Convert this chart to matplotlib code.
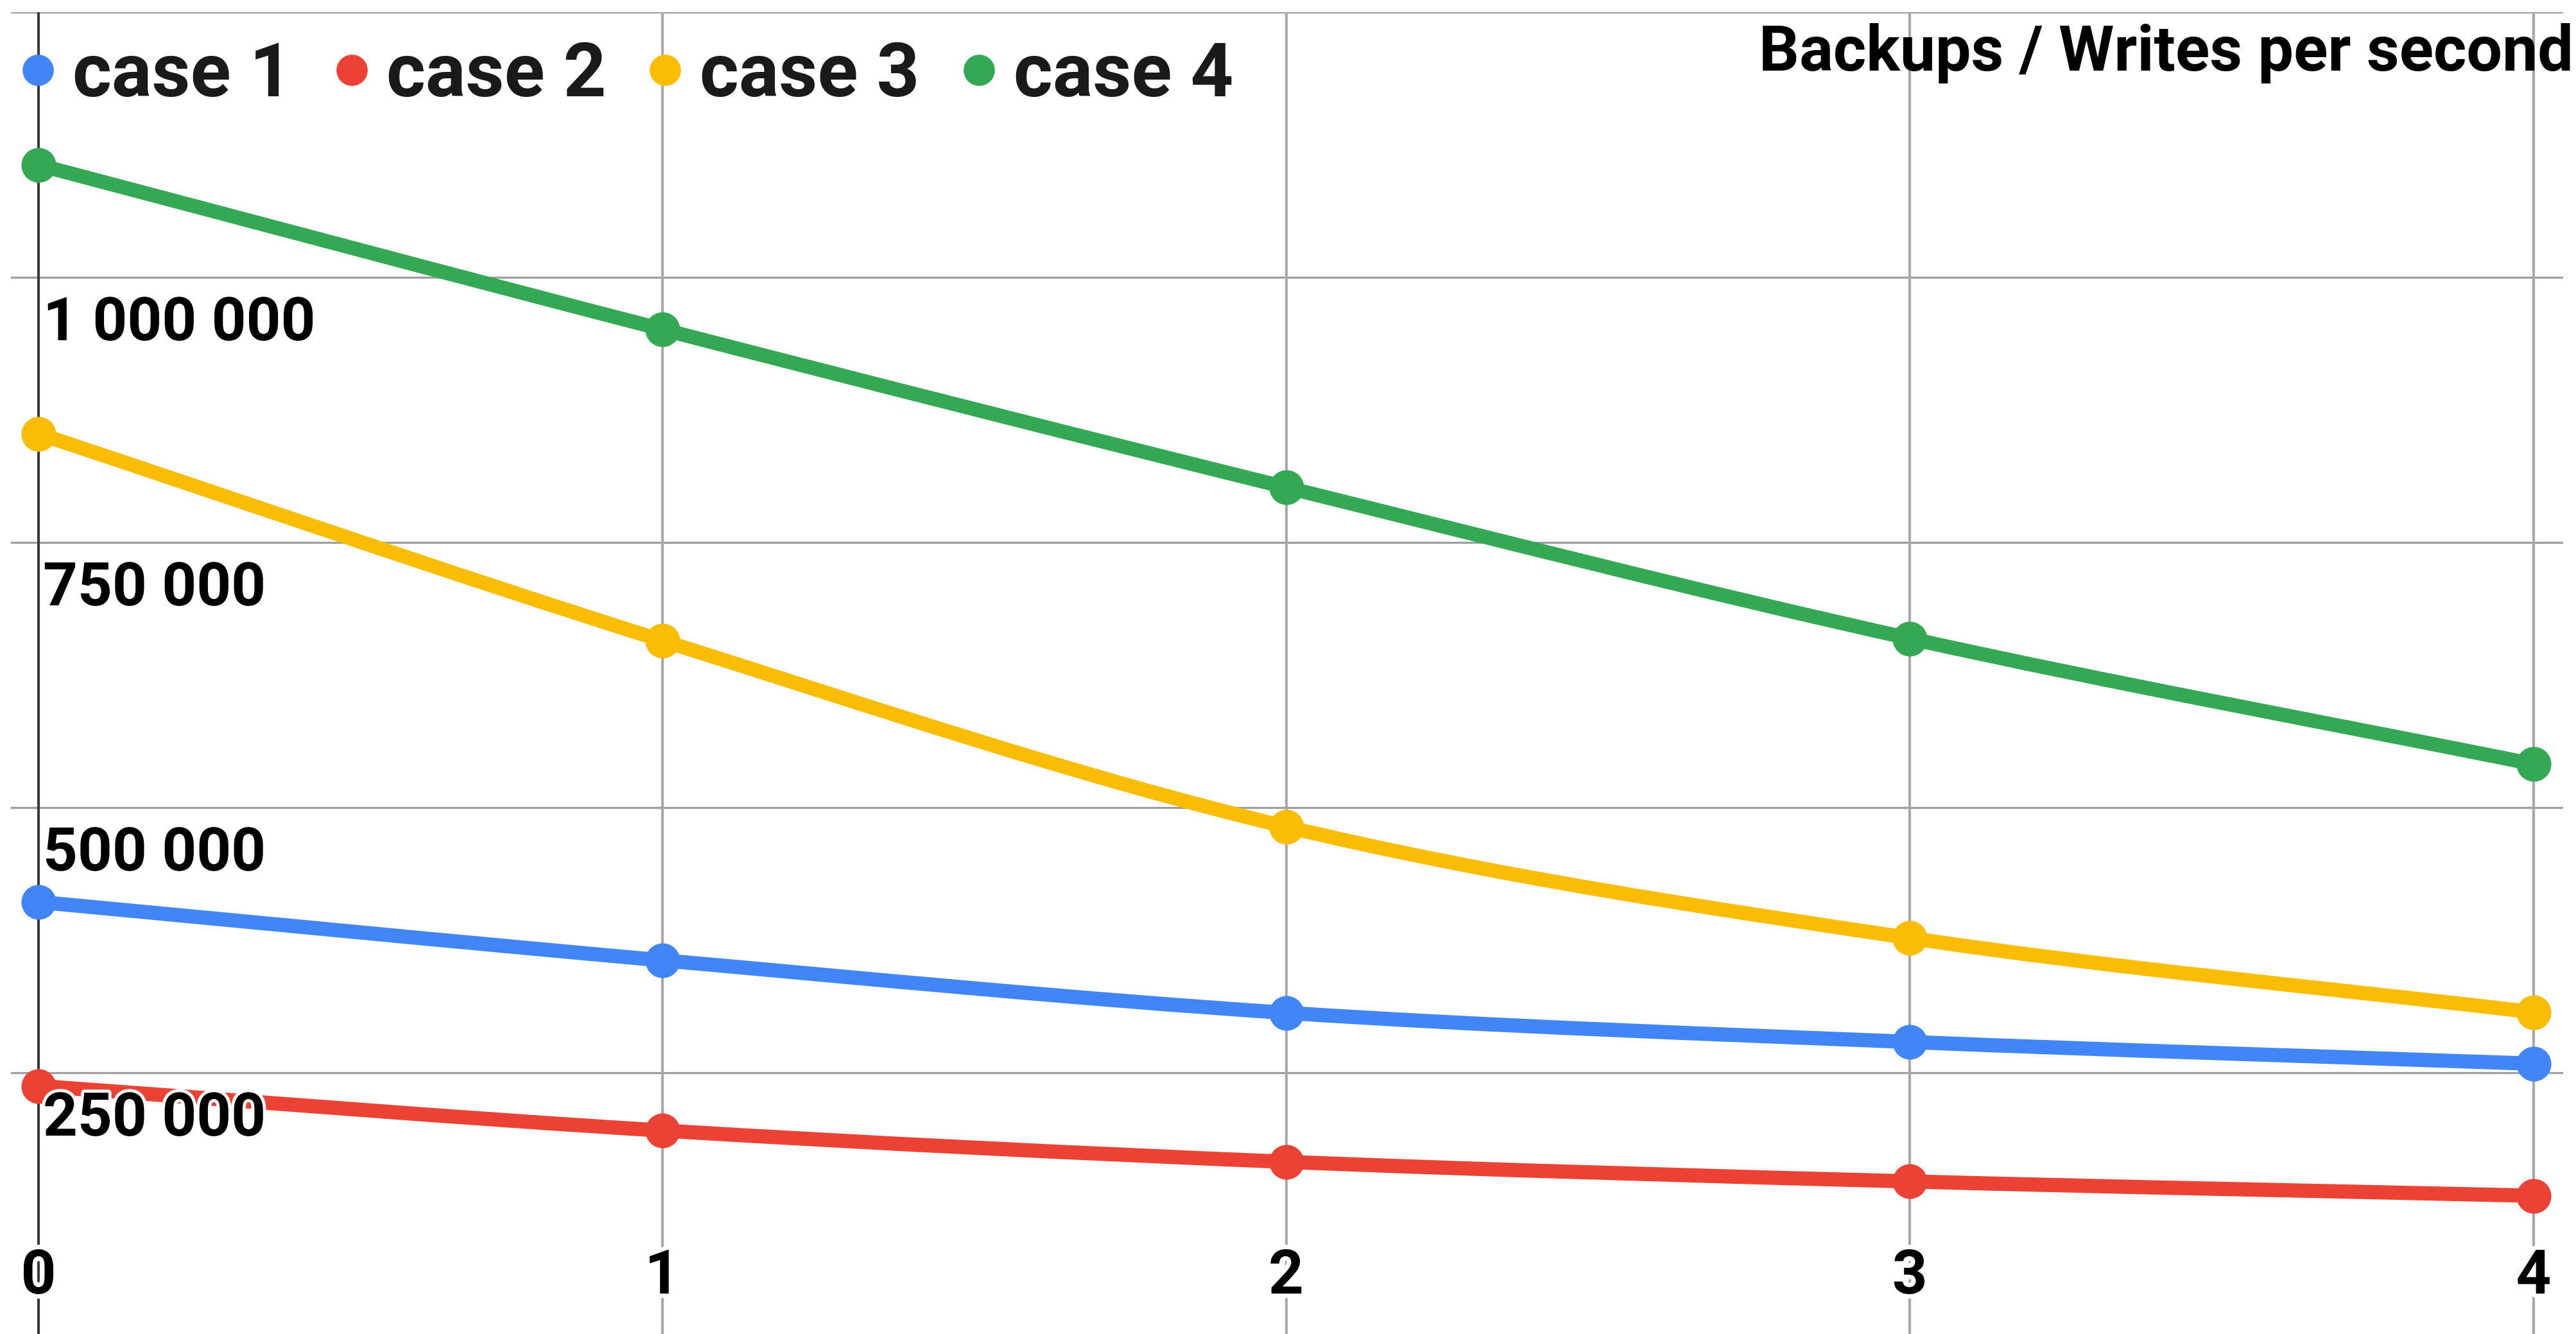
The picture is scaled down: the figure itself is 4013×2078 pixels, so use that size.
import numpy as np
import matplotlib
matplotlib.use('Agg')
import matplotlib.pyplot as plt
import matplotlib.patheffects as pe
from matplotlib.path import Path
from matplotlib.patches import PathPatch

plt.rcParams['font.family'] = ['Roboto', 'DejaVu Sans']
plt.rcParams['font.weight'] = 'bold'

backups = [0, 1, 2, 3, 4]
case1 = [411000, 356000, 306500, 279000, 258500]
case2 = [237500, 195500, 166000, 147500, 134000]
case3 = [852500, 657500, 482000, 377000, 307000]
case4 = [1106000, 951000, 802000, 659500, 541000]
names = ['case 1', 'case 2', 'case 3', 'case 4']
colors = ['#4285F4', '#EA4335', '#FBBC04', '#34A853']
y_ticks = [250000, 500000, 750000, 1000000, 1250000]
title = 'Backups / Writes per second'

W, H = 4013, 2078
DPI = 100


def smooth_path(xs, ys):
    # catmull-rom style curve turned into cubic bezier segments
    p = np.column_stack([xs, ys]).astype(float)
    n = len(p)
    tang = np.zeros_like(p)
    for i in range(n):
        a = p[max(i - 1, 0)]
        b = p[min(i + 1, n - 1)]
        tang[i] = (b - a) / (2 if 0 < i < n - 1 else 1)
    verts = [p[0]]
    codes = [Path.MOVETO]
    for i in range(n - 1):
        verts += [p[i] + tang[i] / 3, p[i + 1] - tang[i + 1] / 3, p[i + 1]]
        codes += [Path.CURVE4] * 3
    return Path(verts, codes)


def fmt(v):
    return f'{v:,}'.replace(',', ' ')


fig = plt.figure(figsize=(W / DPI, H / DPI), dpi=DPI)
# plot area runs almost edge to edge
ax = fig.add_axes([17 / W, -6 / H, (3993 - 17) / W, (2084 - 19) / H])
ax.set_xlim((17 - 60) / 971.75, (3993 - 60) / 971.75)
ax.set_ylim(0, 1250000)
ax.axis('off')

for v in y_ticks:
    ax.axhline(v, color='#9e9e9e', lw=2.3, zorder=1)
for x in backups[1:]:
    ax.axvline(x, color='#a8a8a8', lw=3.0, zorder=1)
ax.axvline(0, color='#3a3a3a', lw=3.0, zorder=1.5)

for ys, c in zip([case1, case2, case3, case4], colors):
    ax.add_patch(PathPatch(smooth_path(backups, ys), fill=False, edgecolor=c,
                           lw=16, capstyle='round', joinstyle='round', zorder=3))
    ax.plot(backups, ys, 'o', ms=39, color=c, mec='none', zorder=4)

halo = [pe.withStroke(linewidth=7, foreground='white')]
for v in y_ticks[:-1]:
    ax.annotate(fmt(v), xy=(0, v), xytext=(7, -98), textcoords='offset pixels',
                ha='left', va='baseline', fontsize=67.7, fontweight='bold',
                color='black', path_effects=halo, zorder=6, annotation_clip=False)

xhalo = [pe.withStroke(linewidth=10, foreground='white')]
for x in backups:
    ax.annotate(str(x), xy=(x, 0), xytext=(0, 69), textcoords='offset pixels',
                ha='center', va='baseline', fontsize=69, fontweight='bold',
                color='black', path_effects=xhalo, zorder=6, annotation_clip=False)

# legend row along the top
renderer = fig.canvas.get_renderer()
cx = 59
for name, c in zip(names, colors):
    fig.add_artist(plt.Line2D([cx / W], [1 - 109 / H], marker='o', ms=35,
                              color=c, mec='none', transform=fig.transFigure))
    t = fig.text((cx + 54) / W, 1 - 150 / H, name, ha='left', va='baseline',
                 fontsize=84, fontweight='bold', color='#1a1a1a')
    bb = t.get_window_extent(renderer)
    cx = bb.x1 + 92

fig.text(4009 / W, 1 - 110 / H, title, ha='right', va='baseline',
         fontsize=71, fontweight='bold', color='black')

fig.savefig('out.png', dpi=DPI, facecolor='white')
